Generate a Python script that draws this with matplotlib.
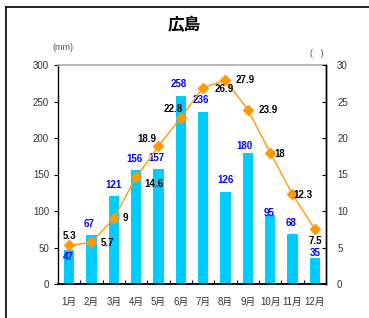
import matplotlib
matplotlib.use("Agg")
import matplotlib.pyplot as plt
import numpy as np

plt.rcParams['font.family'] = ['Liberation Sans', 'Noto Sans CJK JP', 'DejaVu Sans']

months = ["1月", "2月", "3月", "4月", "5月", "6月", "7月", "8月", "9月", "10月", "11月", "12月"]
rain = [47, 67, 121, 156, 157, 258, 236, 126, 180, 95, 68, 35]
temp = [5.3, 5.7, 9, 14.6, 18.9, 22.8, 26.9, 27.9, 23.9, 18, 12.3, 7.5]
temp_txt = ["5.3", "5.7", "9", "14.6", "18.9", "22.8", "26.9", "27.9", "23.9", "18", "12.3", "7.5"]

# label offsets in pixels (dx, dy)
rain_off = [(-1, -7), (-2, 11), (0, 11), (-2, 11), (-2, 11), (-2, 12),
            (-2, 12), (0, 12), (-3, 7), (-1, 2), (-1, 11), (0, 5)]
temp_off = [(0, 9), (16, -1), (12, 0), (18, -7), (-12, 7), (-8, 9),
            (21, -1), (20, 0), (20, 0), (10, -1), (10, -1), (1, -12)]

fig = plt.figure(figsize=(3.69, 3.18), dpi=100)
ax = fig.add_axes([58/369, 34/318, 268/369, 219/318])
x = np.arange(len(months))

ax.bar(x, rain, width=0.45, color="#00CCFF", zorder=2)
ax.set_xlim(-0.5, 11.5)
ax.set_ylim(0, 300)
ax.set_yticks(range(0, 301, 50))
ax.set_xticks(x)
ax.set_xticklabels(months)
ax.set_xticks(np.arange(0.5, 11.5, 1), minor=True)
ax.tick_params(axis="x", which="major", length=0, pad=9, labelsize=7, labelcolor="#333333")
ax.tick_params(axis="x", which="minor", direction="in", length=3, width=0.8)
ax.tick_params(axis="y", direction="out", length=3, width=0.8, labelsize=7, labelcolor="#333333")
ax.spines["top"].set_color("#aaaaaa")
ax.spines["top"].set_linewidth(1.2)
for s in ["left", "bottom", "right"]:
    ax.spines[s].set_linewidth(1.0)
ax.spines["bottom"].set_linewidth(1.3)

for i, v in enumerate(rain):
    ax.annotate(str(v), (x[i], v), xytext=rain_off[i], textcoords="offset pixels",
                ha="center", va="center", color="#0000FF", fontsize=7, fontweight="bold",
                zorder=5)

ax2 = ax.twinx()
ax2.plot(x, temp, color="#FF9900", lw=1.0, marker="D", ms=5, zorder=3)
ax2.set_ylim(0, 30)
ax2.set_yticks(range(0, 31, 5))
ax2.tick_params(axis="y", direction="in", length=3, width=0.8, labelsize=7,
                labelcolor="#333333", pad=8)
ax2.spines["top"].set_visible(False)
ax2.spines["left"].set_visible(False)
ax2.spines["bottom"].set_visible(False)
ax2.spines["right"].set_linewidth(1.0)

for i, v in enumerate(temp):
    ax2.annotate(temp_txt[i], (x[i], v), xytext=temp_off[i], textcoords="offset pixels",
                 ha="center", va="center", color="black", fontsize=7, fontweight="bold",
                 zorder=5)

fig.text(184/369, 1 - 25/318, "広島", ha="center", va="center", fontsize=12,
         fontweight="bold", family=["Noto Sans CJK JP", "DejaVu Sans"])
fig.text(63/369, 1 - 47/318, "(mm)", ha="center", va="center", fontsize=6.5, color="#555555")
fig.text(317/369, 1 - 53/318, "(   )", ha="center", va="center", fontsize=6.5, color="#555555")

# outer frame (left and top edges)
fig.add_artist(plt.Line2D([6/369, 6/369], [0, 1 - 7/318], transform=fig.transFigure,
                          color="black", lw=1.2))
fig.add_artist(plt.Line2D([6/369, 1], [1 - 7/318, 1 - 7/318], transform=fig.transFigure,
                          color="black", lw=1.2))

fig.savefig("out.png", dpi=100)
